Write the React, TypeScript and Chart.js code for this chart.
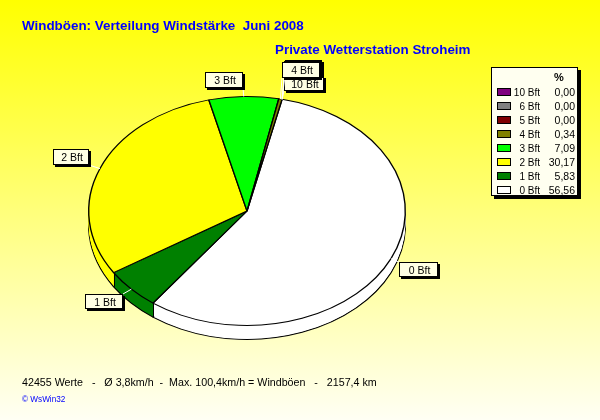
import React, { useEffect, useRef } from "react";
import { Chart, registerables } from "chart.js";

Chart.register(...registerables);

// Legend order, top to bottom
const categories = ["10 Bft", "6 Bft", "5 Bft", "4 Bft", "3 Bft", "2 Bft", "1 Bft", "0 Bft"];
const percentLabels = ["0,00", "0,00", "0,00", "0,34", "7,09", "30,17", "5,83", "56,56"];
const percentValues = [0, 0, 0, 0.34, 7.09, 30.17, 5.83, 56.56];
const colors = ["#800080", "#808080", "#800000", "#808000", "#00FF00", "#FFFF00", "#008000", "#FFFFFF"];

const titleText = "Windböen: Verteilung Windstärke  Juni 2008";
const subtitleText = "Private Wetterstation Stroheim";
const footerText = "42455 Werte   -   Ø 3,8km/h  -  Max. 100,4km/h = Windböen   -   2157,4 km";
const brandText = "© WsWin32";

// Callout boxes: label -> [left, top, right, bottom]
const calloutBoxes: Record<string, number[]> = {
  "0 Bft": [399, 262, 438, 277],
  "1 Bft": [85, 294, 123, 309],
  "2 Bft": [53, 149, 89, 165],
  "3 Bft": [205, 72, 243, 88],
  "10 Bft": [284, 76, 324, 91],
  "6 Bft": [285, 60, 322, 75],
  "5 Bft": [284, 61, 321, 76],
  "4 Bft": [282, 62, 320, 78],
};
const calloutOrder = ["0 Bft", "1 Bft", "2 Bft", "3 Bft", "10 Bft", "6 Bft", "5 Bft", "4 Bft"];

const SQUASH = 115 / 159;
const DEPTH = 14;
const SANS = '"Liberation Sans", Arial, sans-serif';

const pie3d = {
  id: "pie3d",
  beforeDraw(chart: any) {
    const { ctx, width, height } = chart;
    const g = ctx.createLinearGradient(0, 0, 0, height);
    g.addColorStop(0, "#FFFF00");
    g.addColorStop(1, "#FFFFF4");
    ctx.fillStyle = g;
    ctx.fillRect(0, 0, width, height);
  },
  beforeDatasetDraw(chart: any, args: any) {
    const { ctx } = chart;
    const arcs = chart.getDatasetMeta(args.index).data;
    const first = arcs[0];
    const cx = first.x;
    const cy = first.y;
    const paint = (d: number, stroke: boolean) => {
      ctx.save();
      ctx.translate(cx, cy + d);
      ctx.scale(1, SQUASH);
      ctx.translate(-cx, -cy);
      arcs.forEach((a: any) => {
        const o = a.options;
        a.options = { ...o, borderWidth: stroke ? o.borderWidth : 0 };
        a.draw(ctx);
        a.options = o;
      });
      ctx.restore();
    };
    paint(DEPTH, true);
    for (let d = DEPTH - 1; d > 0; d--) paint(d, false);
    // slice boundaries on the wall
    ctx.save();
    ctx.strokeStyle = "#000";
    ctx.lineWidth = 1;
    arcs.forEach((a: any) => {
      const x = Math.round(cx + a.outerRadius * Math.cos(a.startAngle)) + 0.5;
      const y = cy + a.outerRadius * Math.sin(a.startAngle) * SQUASH;
      if (Math.sin(a.startAngle) > 0.2 && a.circumference > 0) {
        ctx.beginPath();
        ctx.moveTo(x, y);
        ctx.lineTo(x, y + DEPTH);
        ctx.stroke();
      }
    });
    ctx.restore();
    ctx.save();
    ctx.translate(cx, cy);
    ctx.scale(1, SQUASH);
    ctx.translate(-cx, -cy);
  },
  afterDatasetDraw(chart: any) {
    chart.ctx.restore();
  },
  afterDraw(chart: any) {
    const { ctx } = chart;
    const labels: string[] = chart.data.labels;
    const arcs = chart.getDatasetMeta(0).data;

    ctx.save();
    ctx.textBaseline = "alphabetic";

    // Titles
    ctx.fillStyle = "#0000FF";
    ctx.textAlign = "left";
    ctx.font = `bold 13.4px ${SANS}`;
    ctx.fillText(titleText, 22, 30);
    ctx.fillText(subtitleText, 275, 54);

    // Footer
    ctx.fillStyle = "#000";
    ctx.font = `10.7px ${SANS}`;
    ctx.fillText(footerText, 22, 386);
    ctx.fillStyle = "#0000FF";
    ctx.font = `8.2px ${SANS}`;
    ctx.fillText(brandText, 22, 402);

    // Callouts
    calloutOrder.forEach((name) => {
      const i = labels.indexOf(name);
      const a = arcs[i];
      const [l, t, r, b] = calloutBoxes[name];
      const mid = (a.startAngle + a.endAngle) / 2;
      const ex = a.x + a.outerRadius * Math.cos(mid);
      const ey = a.y + a.outerRadius * Math.sin(mid) * SQUASH;
      const sx = Math.max(l, Math.min(r, ex));
      const sy = Math.max(t, Math.min(b, ey));
      ctx.strokeStyle = "#FFFFFF";
      ctx.lineWidth = 1;
      ctx.beginPath();
      ctx.moveTo(sx, sy);
      ctx.lineTo(ex, ey);
      ctx.stroke();
      ctx.fillStyle = "#000";
      ctx.fillRect(l + 2, t + 2, r - l, b - t);
      ctx.fillStyle = "#FFFFE4";
      ctx.fillRect(l, t, r - l, b - t);
      ctx.strokeStyle = "#000";
      ctx.strokeRect(l + 0.5, t + 0.5, r - l - 1, b - t - 1);
      ctx.fillStyle = "#000";
      ctx.font = `10.5px ${SANS}`;
      ctx.textAlign = "center";
      ctx.fillText(name, (l + r) / 2 + 1, (t + b) / 2 + 4);
    });

    // Legend panel
    ctx.fillStyle = "#000";
    ctx.fillRect(494, 70, 87, 129);
    ctx.fillStyle = "#FFFFF0";
    ctx.fillRect(491, 67, 87, 129);
    ctx.strokeStyle = "#000";
    ctx.strokeRect(491.5, 67.5, 86, 128);
    ctx.fillStyle = "#000";
    ctx.font = `bold 11px ${SANS}`;
    ctx.textAlign = "center";
    ctx.fillText("%", 559, 81);
    categories.forEach((name, i) => {
      const y = 92 + i * 14;
      ctx.fillStyle = colors[i];
      ctx.fillRect(497, y - 4, 14, 8);
      ctx.strokeStyle = "#000";
      ctx.strokeRect(497.5, y - 3.5, 13, 7);
      ctx.fillStyle = "#000";
      ctx.textAlign = "right";
      ctx.font = `10px ${SANS}`;
      ctx.fillText(name, 540, y + 4);
      ctx.font = `10.5px ${SANS}`;
      ctx.fillText(percentLabels[i], 575, y + 4);
    });
    ctx.restore();
  },
};

export default function App() {
  const ref = useRef<HTMLCanvasElement>(null);
  useEffect(() => {
    document.body.style.margin = "0";
    const order = categories.map((_, i) => categories.length - 1 - i);
    const chart = new Chart(ref.current!, {
      type: "pie",
      data: {
        labels: order.map((i) => categories[i]),
        datasets: [
          {
            data: order.map((i) => percentValues[i]),
            backgroundColor: order.map((i) => colors[i]),
            borderColor: "#000000",
            borderWidth: 1.4,
            clip: false,
          } as any,
        ],
      },
      options: {
        responsive: false,
        animation: false,
        rotation: 12.8,
        devicePixelRatio: 1,
        layout: { padding: { left: 88, right: 194, top: 52, bottom: 50 } },
        plugins: { legend: { display: false }, tooltip: { enabled: false }, title: { display: false } },
      },
      plugins: [pie3d],
    });
    return () => chart.destroy();
  }, []);
  return <canvas ref={ref} width={600} height={420} style={{ display: "block", width: 600, height: 420 }} />;
}
